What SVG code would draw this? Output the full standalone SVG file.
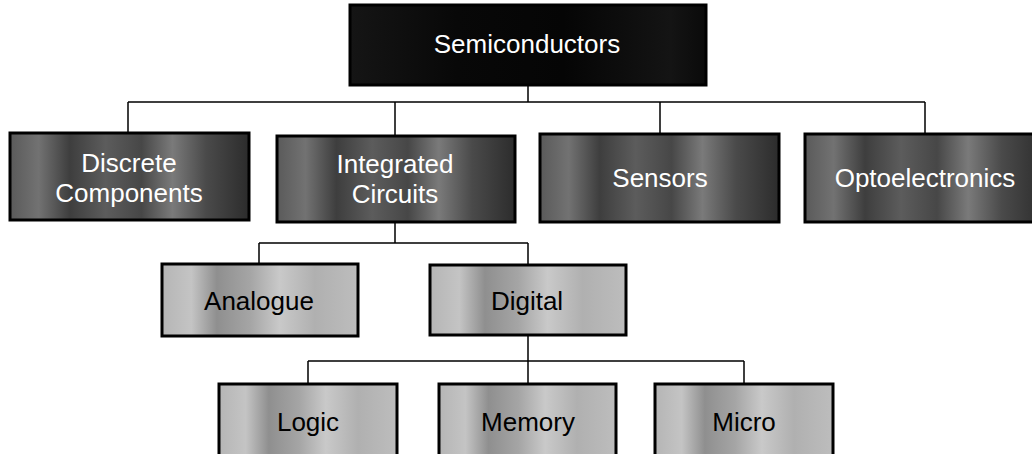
<svg xmlns="http://www.w3.org/2000/svg" width="1032" height="454" viewBox="0 0 1032 454">
<style>
.box{stroke:#000;stroke-width:3}
.t{font-family:"Liberation Sans",Arial,sans-serif;font-size:26px;text-anchor:middle}
.w{fill:#fff}
.k{fill:#000}
.c{fill:none;stroke:#000;stroke-width:1.5}
</style>
<defs>
<linearGradient id="gTop" x1="0" y1="0" x2="1" y2="0">
<stop offset="0" stop-color="#151515"/>
<stop offset="0.3" stop-color="#080808"/>
<stop offset="0.6" stop-color="#050505"/>
<stop offset="0.9" stop-color="#141414"/>
<stop offset="1" stop-color="#0a0a0a"/>
</linearGradient>
<linearGradient id="gDark" x1="0" y1="0" x2="1" y2="0">
<stop offset="0" stop-color="#5a5a5a"/>
<stop offset="0.12" stop-color="#727272"/>
<stop offset="0.25" stop-color="#3e3e3e"/>
<stop offset="0.4" stop-color="#5c5c5c"/>
<stop offset="0.55" stop-color="#474747"/>
<stop offset="0.68" stop-color="#7a7a7a"/>
<stop offset="0.82" stop-color="#4a4a4a"/>
<stop offset="1" stop-color="#2c2c2c"/>
</linearGradient>
<linearGradient id="gLight" x1="0" y1="0" x2="1" y2="0">
<stop offset="0" stop-color="#b5b5b5"/>
<stop offset="0.15" stop-color="#c4c4c4"/>
<stop offset="0.28" stop-color="#8f8f8f"/>
<stop offset="0.45" stop-color="#a5a5a5"/>
<stop offset="0.6" stop-color="#c9c9c9"/>
<stop offset="0.78" stop-color="#b0b0b0"/>
<stop offset="1" stop-color="#bdbdbd"/>
</linearGradient>
</defs>
<rect width="1032" height="454" fill="#fff"/>
<g id="connectors">
<path class="c" d="M528,85 V102 M128,102 H925 M128,102 V133 M395,102 V136 M660,102 V134 M925,102 V134"/>
<path class="c" d="M395,222 V243 M259,243 H528 M259,243 V264 M528,243 V265"/>
<path class="c" d="M528,335 V361 M308,361 H744 M308,361 V384 M528,361 V384 M744,361 V384"/>
</g>
<g id="semiconductors">
<rect class="box" x="350" y="5" width="356" height="80" fill="url(#gTop)"/>
<text class="t w" x="527" y="53">Semiconductors</text>
</g>
<g id="discrete">
<rect class="box" x="10" y="133" width="239" height="87" fill="url(#gDark)"/>
<text class="t w" x="129" y="172">Discrete</text>
<text class="t w" x="129" y="202">Components</text>
</g>
<g id="integrated">
<rect class="box" x="277" y="136" width="238" height="86" fill="url(#gDark)"/>
<text class="t w" x="395" y="173">Integrated</text>
<text class="t w" x="395" y="203">Circuits</text>
</g>
<g id="sensors">
<rect class="box" x="540" y="134" width="239" height="88" fill="url(#gDark)"/>
<text class="t w" x="660" y="187">Sensors</text>
</g>
<g id="optoelectronics">
<rect class="box" x="805" y="134" width="240" height="88" fill="url(#gDark)"/>
<text class="t w" x="925" y="187">Optoelectronics</text>
</g>
<g id="analogue">
<rect class="box" x="162" y="264" width="196" height="72" fill="url(#gLight)"/>
<text class="t k" x="259" y="310">Analogue</text>
</g>
<g id="digital">
<rect class="box" x="430" y="265" width="196" height="70" fill="url(#gLight)"/>
<text class="t k" x="527" y="310">Digital</text>
</g>
<g id="logic">
<rect class="box" x="219" y="384" width="178" height="74" fill="url(#gLight)"/>
<text class="t k" x="308" y="431">Logic</text>
</g>
<g id="memory">
<rect class="box" x="439" y="384" width="177" height="74" fill="url(#gLight)"/>
<text class="t k" x="528" y="431">Memory</text>
</g>
<g id="micro">
<rect class="box" x="655" y="384" width="178" height="74" fill="url(#gLight)"/>
<text class="t k" x="744" y="431">Micro</text>
</g>
</svg>
